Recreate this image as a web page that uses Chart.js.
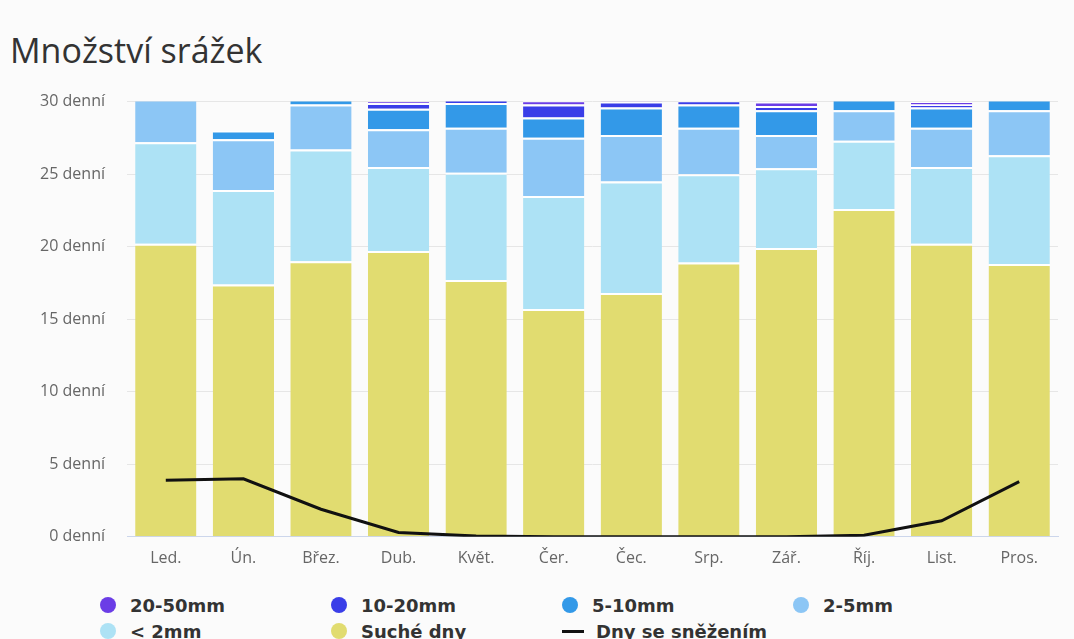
<!DOCTYPE html>
<html>
<head>
<meta charset="utf-8">
<script src="https://cdn.jsdelivr.net/npm/chart.js@4/dist/chart.umd.min.js"></script>
<style>
  body { margin: 0; background: #fbfbfb; width: 1074px; height: 639px; overflow: hidden; position: relative; }
  #title { position: absolute; left: 10px; top: 27px; font: 34px "Open Sans", sans-serif; color: #333; }
  #wrap { position: absolute; left: 0; top: 70px; width: 1074px; height: 515px; }
  #legend { position: absolute; left: 100px; top: 594px; display: grid; grid-template-columns: repeat(4, 231px); row-gap: 4px;
            font: bold 18px "DejaVu Sans", sans-serif; color: #333; }
  .item { display: flex; align-items: center; height: 22px; }
  .dot { width: 16px; height: 16px; border-radius: 50%; margin-right: 14px; }
  .dash { width: 22px; height: 3px; background: #111; margin-right: 12px; }
</style>
</head>
<body>
<div id="title">Množství srážek</div>
<div id="wrap"><canvas id="rainChart"></canvas></div>
<div id="legend"></div>
<script>
const months = ['Led.', 'Ún.', 'Břez.', 'Dub.', 'Květ.', 'Čer.', 'Čec.', 'Srp.', 'Zář.', 'Říj.', 'List.', 'Pros.'];
const dryDays   = [20.2, 17.4, 19.0, 19.7, 17.7, 15.7, 16.8, 18.9, 19.9, 22.6, 20.2, 18.8];
const under2mm  = [7.0, 6.5, 7.7, 5.8, 7.4, 7.8, 7.7, 6.1, 5.5, 4.7, 5.3, 7.5];
const mm2to5    = [3.2, 3.5, 3.1, 2.6, 3.1, 4.0, 3.2, 3.2, 2.3, 2.1, 2.7, 3.1];
const mm5to10   = [0.4, 0.6, 0.6, 1.4, 1.7, 1.4, 1.9, 1.6, 1.7, 0.9, 1.4, 0.9];
const mm10to20  = [0.1, 0.0, 0.4, 0.4, 0.3, 0.9, 0.4, 0.3, 0.3, 0.2, 0.2, 0.3];
const mm20to50  = [0.1, 0.0, 0.2, 0.1, 0.2, 0.3, 0.2, 0.2, 0.3, 0.1, 0.2, 0.1];
const snowDays  = [3.9, 4.0, 1.9, 0.3, 0.05, 0, 0, 0, 0, 0.1, 1.1, 3.8];
const yTicks = [0, 5, 10, 15, 20, 25, 30];

function bar(label, data, color) {
    return {
        type: 'bar', label: label, data: data, backgroundColor: color,
        borderColor: '#ffffff', borderWidth: { top: 2, left: 0, right: 0, bottom: 0 }, borderSkipped: false,
        stack: 'rain', barPercentage: 0.79, categoryPercentage: 1, order: 2
    };
}

const datasets = [
    bar('Suché dny', dryDays, '#e1dc70'),
    bar('< 2mm', under2mm, '#ade2f5'),
    bar('2-5mm', mm2to5, '#8cc6f5'),
    bar('5-10mm', mm5to10, '#3399e8'),
    bar('10-20mm', mm10to20, '#3a3ee8'),
    bar('20-50mm', mm20to50, '#6b3de6'),
    {
        type: 'line', label: 'Dny se sněžením', data: snowDays, stack: 'snow',
        borderColor: '#111111', borderWidth: 3, pointRadius: 0, tension: 0, order: 0
    }
];

new Chart(document.getElementById('rainChart'), {
    data: { labels: months, datasets: datasets },
    options: {
        responsive: true,
        maintainAspectRatio: false,
        animation: false,
        layout: { padding: { top: 10, right: 16, bottom: 5, left: 12 } },
        plugins: { legend: { display: false }, tooltip: { enabled: false } },
        scales: {
            x: {
                stacked: true,
                grid: { display: false, drawTicks: false },
                border: { color: '#ccd6eb' },
                ticks: { font: { family: 'Open Sans', size: 16 }, color: '#666', padding: 12 }
            },
            y: {
                stacked: true, min: 0, max: 30,
                afterBuildTicks: s => { s.ticks = yTicks.map(v => ({ value: v })); },
                afterFit: s => { s.width = 115; },
                grid: { color: '#e6e6e6', drawTicks: false },
                border: { display: false },
                ticks: {
                    font: { family: 'Open Sans', size: 16 }, color: '#666', padding: 22,
                    callback: v => v + ' denní'
                }
            }
        }
    }
});

// legend in the original order
const legendOrder = ['20-50mm', '10-20mm', '5-10mm', '2-5mm', '< 2mm', 'Suché dny', 'Dny se sněžením'];
const legendEl = document.getElementById('legend');
legendOrder.forEach(name => {
    const ds = datasets.find(d => d.label === name);
    const item = document.createElement('div');
    item.className = 'item';
    const mark = document.createElement('span');
    if (ds.type === 'line') {
        mark.className = 'dash';
    } else {
        mark.className = 'dot';
        mark.style.background = ds.backgroundColor;
    }
    item.appendChild(mark);
    item.appendChild(document.createTextNode(name));
    legendEl.appendChild(item);
});
</script>
</body>
</html>
